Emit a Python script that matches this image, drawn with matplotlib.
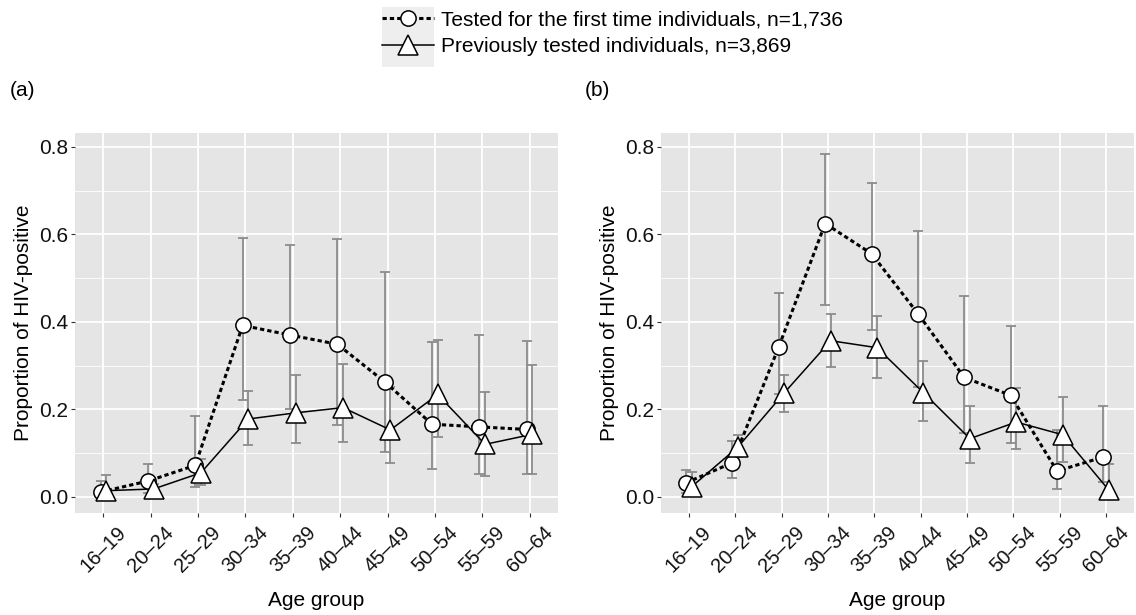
import matplotlib
matplotlib.use("Agg")
import matplotlib.pyplot as plt
import numpy as np
from matplotlib.lines import Line2D
from matplotlib.patches import Rectangle

plt.rcParams['font.family'] = ['Liberation Sans', 'DejaVu Sans']

age_groups = ["16–19", "20–24", "25–29", "30–34", "35–39", "40–44",
              "45–49", "50–54", "55–59", "60–64"]

# Panel (a)
a_first = [0.011, 0.036, 0.072, 0.392, 0.370, 0.349, 0.263, 0.166, 0.160, 0.154]
a_first_lo = [0.000, 0.008, 0.023, 0.222, 0.200, 0.165, 0.102, 0.063, 0.052, 0.052]
a_first_hi = [0.036, 0.074, 0.185, 0.593, 0.575, 0.590, 0.515, 0.354, 0.369, 0.357]
a_prev = [0.014, 0.018, 0.055, 0.178, 0.192, 0.204, 0.153, 0.234, 0.120, 0.143]
a_prev_lo = [0.004, 0.008, 0.027, 0.118, 0.122, 0.125, 0.078, 0.136, 0.047, 0.052]
a_prev_hi = [0.051, 0.030, 0.086, 0.241, 0.279, 0.304, 0.252, 0.358, 0.240, 0.302]

# Panel (b)
b_first = [0.032, 0.078, 0.343, 0.625, 0.556, 0.419, 0.273, 0.232, 0.059, 0.091]
b_first_lo = [0.008, 0.043, 0.236, 0.438, 0.382, 0.250, 0.146, 0.123, 0.019, 0.034]
b_first_hi = [0.061, 0.128, 0.467, 0.785, 0.718, 0.608, 0.459, 0.390, 0.152, 0.207]
b_prev = [0.023, 0.114, 0.238, 0.357, 0.341, 0.238, 0.133, 0.171, 0.142, 0.015]
b_prev_lo = [0.006, 0.091, 0.194, 0.297, 0.272, 0.174, 0.078, 0.110, 0.080, 0.000]
b_prev_hi = [0.056, 0.141, 0.278, 0.418, 0.413, 0.311, 0.208, 0.248, 0.229, 0.076]

label_first = "Tested for the first time individuals, n=1,736"
label_prev = "Previously tested individuals, n=3,869"

W, H = 1136, 615
fig = plt.figure(figsize=(W / 100, H / 100), dpi=100)

FS = 15
dodge = 0.06
err_color = "#8c8c8c"
bg = "#E5E5E5"

dash_style = (0, (1.4, 1.0))


def panel(ax, first, flo, fhi, prev, plo, phi):
    x = np.arange(len(age_groups))
    xf = x - dodge
    xp = x + dodge
    ax.set_facecolor(bg)
    for s in ax.spines.values():
        s.set_visible(False)
    ax.set_axisbelow(True)
    ax.set_xticks(x)
    ax.set_xticklabels(age_groups, rotation=45, ha='center', va='top',
                       rotation_mode='default', fontsize=14.5)
    ax.set_yticks([0, 0.2, 0.4, 0.6, 0.8])
    ax.set_yticklabels(["0.0", "0.2", "0.4", "0.6", "0.8"], fontsize=FS)
    ax.set_yticks([0.1, 0.3, 0.5, 0.7], minor=True)
    ax.grid(True, which='major', color='white', linewidth=1.3)
    ax.grid(True, which='minor', axis='y', color='white', linewidth=0.6)
    ax.tick_params(axis='both', which='major', length=3, width=0.8, color='#333333',
                   labelcolor='#111111', pad=2)
    ax.tick_params(axis='x', which='major', pad=4)
    ax.tick_params(axis='y', which='minor', length=0)
    ax.set_xlim(-0.6, 9.6)
    ax.set_ylim(-0.037, 0.832)

    f = np.array(first); p = np.array(prev)
    ax.errorbar(xf, f, yerr=[f - np.array(flo), np.array(fhi) - f], fmt='none',
                ecolor=err_color, elinewidth=1.3, capsize=3.5, capthick=1.3, zorder=2)
    ax.errorbar(xp, p, yerr=[p - np.array(plo), np.array(phi) - p], fmt='none',
                ecolor=err_color, elinewidth=1.3, capsize=3.5, capthick=1.3, zorder=2)
    ax.plot(xf, f, color='black', linewidth=2.2, linestyle=dash_style, zorder=3)
    ax.plot(xp, p, color='black', linewidth=1.1, linestyle='-', zorder=3)
    ax.plot(xf, f, linestyle='none', marker='o', markersize=11, markerfacecolor='white',
            markeredgecolor='black', markeredgewidth=1.1, zorder=4)
    ax.plot(xp, p, linestyle='none', marker='^', markersize=14, markerfacecolor='white',
            markeredgecolor='black', markeredgewidth=1.1, zorder=4)
    ax.set_xlabel("Age group", fontsize=FS, labelpad=11)
    ax.set_ylabel("Proportion of HIV-positive", fontsize=FS, labelpad=4)


bottom = (H - 513) / H
top = (H - 133) / H
axa = fig.add_axes([75 / W, bottom, (558 - 75) / W, top - bottom])
axb = fig.add_axes([661 / W, bottom, (1134 - 661) / W, top - bottom])
panel(axa, a_first, a_first_lo, a_first_hi, a_prev, a_prev_lo, a_prev_hi)
panel(axb, b_first, b_first_lo, b_first_hi, b_prev, b_prev_lo, b_prev_hi)

fig.text(10 / W, 1 - 91 / H, "(a)", fontsize=FS, va='center', ha='left')
fig.text(585 / W, 1 - 91 / H, "(b)", fontsize=FS, va='center', ha='left')

# legend key background
key_bg = Rectangle((382 / W, 1 - 67 / H), 52 / W, 60 / H, transform=fig.transFigure,
                   facecolor='#EEEEEE', edgecolor='none')
fig.patches.append(key_bg)
key_bg.set_figure(fig)

h1 = Line2D([], [], color='black', linewidth=2.2, linestyle=dash_style, marker='o',
            markersize=11, markerfacecolor='white', markeredgecolor='black', markeredgewidth=1.1)
h2 = Line2D([], [], color='black', linewidth=1.1, linestyle='-', marker='^',
            markersize=14, markerfacecolor='white', markeredgecolor='black', markeredgewidth=1.1)
leg = fig.legend([h1, h2], [label_first, label_prev], loc='upper left',
                 bbox_to_anchor=(382 / W, 1 - 10 / H), frameon=False, fontsize=FS,
                 borderpad=0, borderaxespad=0, handlelength=2.5, handletextpad=0.34,
                 labelspacing=0.4, markerscale=1.0)
leg.set_zorder(5)

fig.savefig("out.png", dpi=100)
